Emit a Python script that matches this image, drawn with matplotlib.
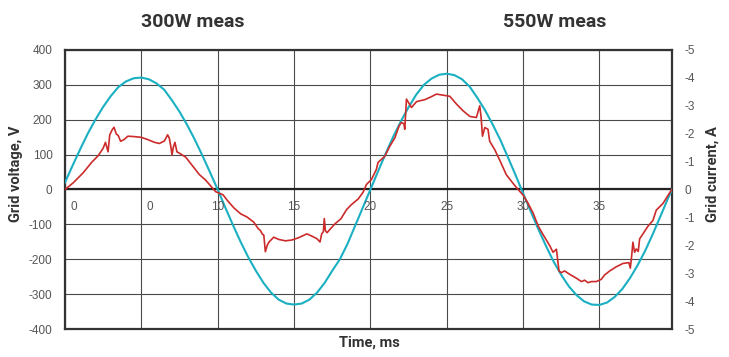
import numpy as np
import matplotlib.pyplot as plt

plt.rcParams['font.family'] = ['Roboto', 'DejaVu Sans']
plt.rcParams['axes.unicode_minus'] = False

# --- DATA ---
# grid voltage (V), sampled every 0.5 ms, last point at the right edge
volt_t = list(np.arange(0, 40, 0.5)) + [39.75]
volt_v = [20, 69, 116, 161, 201, 237, 268, 294, 310, 319,
          321, 316, 304, 286, 256, 223, 185, 143, 97, 49,
          0, -52, -102, -150, -194, -233, -268, -296, -316, -327,
          -330, -327, -316, -296, -268, -233, -200, -156, -104, -52,
          0, 52, 103, 152, 196, 236, 272, 300, 318, 329,
          332, 328, 316, 295, 263, 228, 187, 143, 93, 42,
          -11, -63, -114, -162, -207, -245, -278, -303, -321, -330,
          -331, -324, -308, -285, -254, -217, -175, -127, -76, -24,
          0]

# grid current (A), plotted on the inverted right axis
curr_t = [0.0, 0.54, 1.19, 1.74, 2.17, 2.49, 2.65, 2.82, 2.93, 3.10,
          3.21, 3.36, 3.49, 3.64, 3.84, 4.12, 4.45, 4.99, 5.42, 5.86,
          6.18, 6.51, 6.72, 6.83, 6.92, 7.01, 7.09, 7.20, 7.33, 7.59,
          7.92, 8.35, 8.79, 9.22, 9.65, 9.87, 10.13, 10.35, 10.63, 11.06,
          11.50, 11.93, 12.36, 12.65, 12.80, 12.91, 13.02, 13.12, 13.25, 13.38,
          13.67, 14.00, 14.43, 14.86, 15.29, 15.84, 16.16, 16.49, 16.70, 16.81,
          16.92, 16.98, 17.05, 17.16, 17.35, 17.68, 18.07, 18.44, 18.76, 19.20,
          19.52, 19.74, 20.07, 20.39, 20.50, 20.94, 21.27, 21.60, 21.88, 22.03,
          22.19, 22.25, 22.36, 22.69, 23.02, 23.56, 23.89, 24.33, 24.65, 24.98,
          25.20, 25.64, 26.07, 26.51, 26.94, 27.16, 27.25, 27.34, 27.49, 27.70,
          27.81, 28.14, 28.47, 28.90, 29.34, 29.67, 30.00, 30.33, 30.66, 30.98,
          31.31, 31.74, 31.96, 32.18, 32.35, 32.50, 32.72, 33.05, 33.49, 33.82,
          34.03, 34.25, 34.47, 34.79, 35.12, 35.34, 35.67, 36.10, 36.54, 36.93,
          37.02, 37.11, 37.19, 37.30, 37.41, 37.54, 37.63, 37.85, 38.17, 38.50,
          38.72, 39.16, 39.64, 39.75]
curr_a = [0.0, -0.24, -0.60, -0.97, -1.21, -1.47, -1.69, -1.35, -1.96, -2.15,
          -2.23, -1.99, -1.93, -1.73, -1.78, -1.91, -1.90, -1.87, -1.79, -1.69,
          -1.65, -1.74, -1.96, -1.84, -1.57, -1.24, -1.51, -1.69, -1.35, -1.27,
          -1.15, -0.85, -0.54, -0.33, -0.06, 0.08, 0.14, 0.19, 0.39, 0.66,
          0.87, 0.99, 1.17, 1.40, 1.47, 1.59, 1.64, 2.23, 1.99, 1.87,
          1.71, 1.79, 1.84, 1.81, 1.73, 1.59, 1.67, 1.76, 1.88, 1.59,
          1.51, 1.04, 1.47, 1.55, 1.43, 1.23, 1.05, 0.72, 0.54, 0.34,
          0.10, -0.18, -0.36, -0.72, -0.97, -1.19, -1.55, -1.85, -2.28, -2.40,
          -2.36, -2.16, -3.24, -2.94, -3.15, -3.22, -3.30, -3.42, -3.39, -3.36,
          -3.34, -3.06, -2.82, -2.62, -2.58, -3.00, -2.58, -1.91, -2.22, -2.16,
          -1.73, -1.43, -1.05, -0.53, -0.22, 0.0, 0.20, 0.50, 0.85, 1.30,
          1.62, 2.01, 2.25, 2.14, 2.92, 2.98, 2.92, 3.04, 3.18, 3.30,
          3.25, 3.34, 3.30, 3.30, 3.22, 3.06, 2.92, 2.77, 2.65, 2.62,
          2.82, 2.37, 1.89, 2.25, 2.13, 2.22, 1.77, 1.59, 1.32, 1.11,
          0.74, 0.50, 0.08, 0.0]

time_ticks = [0, 5, 10, 15, 20, 25, 30, 35]
time_labels = ['0', '0', '10', '15', '20', '25', '30', '35']
volt_ticks = [-400, -300, -200, -100, 0, 100, 200, 300, 400]
curr_ticks = [-5, -4, -3, -2, -1, 0, 1, 2, 3, 4, 5]
curr_labels = ['-5', '-4', '-3', '-2', '-1', '0', '-1', '-2', '-3', '-4', '-5']
titles = ['300W meas', '550W meas']

TICK_FONT = ['Liberation Sans', 'DejaVu Sans']
TICK_COLOR = '#555555'

# --- PLOT ---
fig = plt.figure(figsize=(7.29, 3.57), dpi=100)
ax = fig.add_axes([65 / 729, 1 - 329 / 357, 607 / 729, 279 / 357])

ax.plot(volt_t, volt_v, color='#1ab0c2', lw=1.5, zorder=3)
ax.set_xlim(0, 39.75)
ax.set_ylim(-400, 400)
ax.set_xticks(time_ticks)
ax.set_xticklabels([])
ax.set_yticks(volt_ticks)
ax.grid(True, color='#4a4a4a', lw=0.8)
ax.axhline(0, color='#222222', lw=1.6, zorder=2)
ax.tick_params(length=0, labelsize=8.5, labelcolor=TICK_COLOR, pad=9)
for lab in ax.get_yticklabels():
    lab.set_family(TICK_FONT)
for s in ax.spines.values():
    s.set_linewidth(1.6)
    s.set_color('#333333')

# x tick labels sit inside the plot, just under the zero line
for t, lab in zip(time_ticks, time_labels):
    dx = 0.35 if lab == '0' else 0.0
    ha = 'left' if lab == '0' else 'center'
    ax.text(t + dx, -50, lab, ha=ha, va='center', fontsize=8.5,
            family=TICK_FONT, color=TICK_COLOR, zorder=4)

ax2 = ax.twinx()
ax2.plot(curr_t, curr_a, color='#cc2b2b', lw=1.2, zorder=3)
ax2.set_ylim(5, -5)
ax2.set_yticks(curr_ticks)
ax2.set_yticklabels(curr_labels)
ax2.tick_params(length=0, labelsize=8.5, labelcolor=TICK_COLOR, pad=9)
for lab in ax2.get_yticklabels():
    lab.set_family(TICK_FONT)
for s in ax2.spines.values():
    s.set_visible(False)

for x, title in zip([193, 555], titles):
    fig.text(x / 729, 1 - 22 / 357, title, ha='center', va='center',
             fontsize=14, fontweight='bold', color='#333333')
fig.text(16 / 729, 1 - 174 / 357, 'Grid voltage, V', rotation=90,
         ha='center', va='center', fontsize=10.5, fontweight='bold', color='#333333')
fig.text(713 / 729, 1 - 174 / 357, 'Grid current, A', rotation=90,
         ha='center', va='center', fontsize=10.5, fontweight='bold', color='#333333')
fig.text(369 / 729, 1 - 343 / 357, 'Time, ms', ha='center', va='center',
         fontsize=10.5, fontweight='bold', color='#333333')

fig.savefig('out.png', dpi=100)
